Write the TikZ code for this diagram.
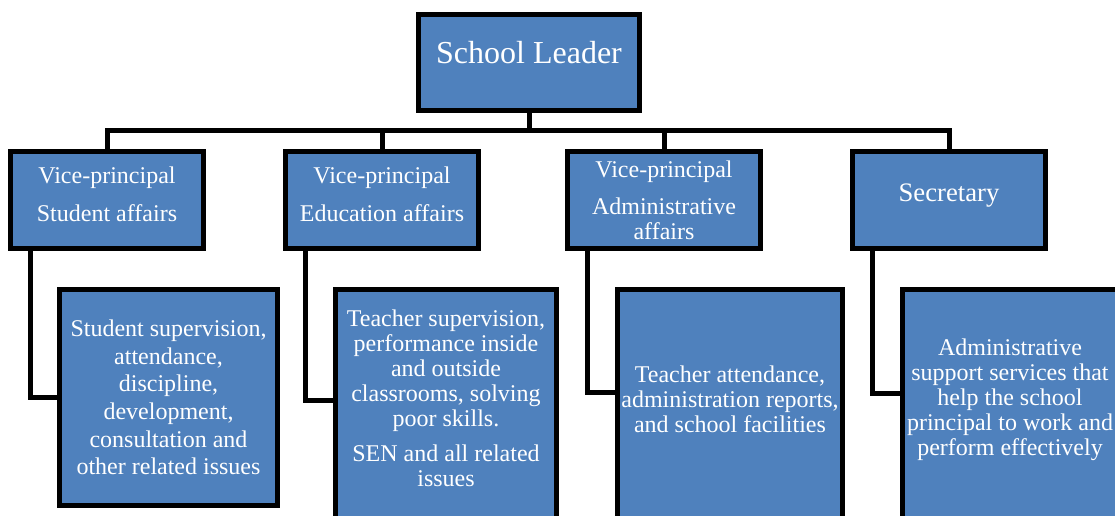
\documentclass[tikz,border=0pt]{standalone}
\usepackage{fontspec}
\setmainfont{Liberation Serif}
\usetikzlibrary{positioning}
\definecolor{boxblue}{HTML}{4F81BD}

\begin{document}
\begin{tikzpicture}[
    box/.style={draw=black,
      line width=3.75pt,
      fill=boxblue,
      text=white,
      align=center,
      inner sep=2pt},
    lift/.style={execute at end node={\rule[-#1]{0pt}{#1}}},
    head/.style={box, inner ysep=0pt, text height=36.6pt, text depth=35.4pt,
      minimum width=165.75pt, font=\fontsize{24}{28}\selectfont},
    vp/.style={box, minimum width=144.75pt, minimum height=72.75pt,
      font=\fontsize{18}{20.75}\selectfont},
    duty/.style={box, font=\fontsize{18}{18.75}\selectfont},
    link/.style={line width=3.75pt}
  ]
  \useasboundingbox (0,0) rectangle (836.25pt,-387pt);
  \clip (0,0) rectangle (836.25pt,-387pt);

  \node[head] (L) at (396.75pt,-46.875pt) {School Leader};

  \node[vp, lift=9pt] (V1) at (80.25pt,-150pt) {Vice-principal\\[7.75pt]Student affairs};
  \node[vp, lift=9pt, right=57.75pt of V1] (V2) {Vice-principal\\[7.75pt]Education affairs};
  \node[vp, right=63pt of V2, font=\fontsize{18}{18.75}\selectfont] (V3) {%
    Vice-principal\\[9pt]
    Administrative\\
    affairs};
  \node[vp, lift=10.3pt, right=65.25pt of V3, font=\fontsize{20}{23}\selectfont] (V4) {Secretary};

  \node[duty, below right=27pt and 36.75pt of V1.south west, minimum width=163.5pt,
    minimum height=162pt, font=\fontsize{18}{20.75}\selectfont] (T1) {%
    Student supervision,\\
    attendance,\\
    discipline,\\
    development,\\
    consultation and\\
    other related issues};
  \node[duty, lift=9.75pt, below right=27pt and 37.5pt of V2.south west, minimum width=165.75pt,
    minimum height=172.9pt] (T2) {%
    Teacher supervision,\\
    performance inside\\
    and outside\\
    classrooms, solving\\
    poor skills.\\[7.5pt]
    SEN and all related\\
    issues};
  \node[duty, lift=9pt, below right=27pt and 37.5pt of V3.south west, minimum width=168.75pt,
    minimum height=172.9pt] (T3) {%
    Teacher attendance,\\
    administration reports,\\
    and school facilities};
  \node[duty, lift=11.4pt, below right=27pt and 37.5pt of V4.south west, minimum width=161.25pt,
    minimum height=172.9pt] (T4) {%
    Administrative\\
    support services that\\
    help the school\\
    principal to work and\\
    perform effectively};

  \coordinate[below=13.5pt of L.south] (bus);
  \draw[link] (L.south) -- (bus);
  \foreach \v in {V1,V2,V3,V4}
    \draw[link] (bus) -| (\v.north);

  % side links, a little above the box centres
  \foreach \v/\t/\dy in {V1/T1/0pt,V2/T2/3.5pt,V3/T3/9.5pt,V4/T4/8.8pt}
    \draw[link] ([xshift=16.5pt]\v.south west) |- ([yshift=\dy]\t.west);
\end{tikzpicture}
\end{document}
